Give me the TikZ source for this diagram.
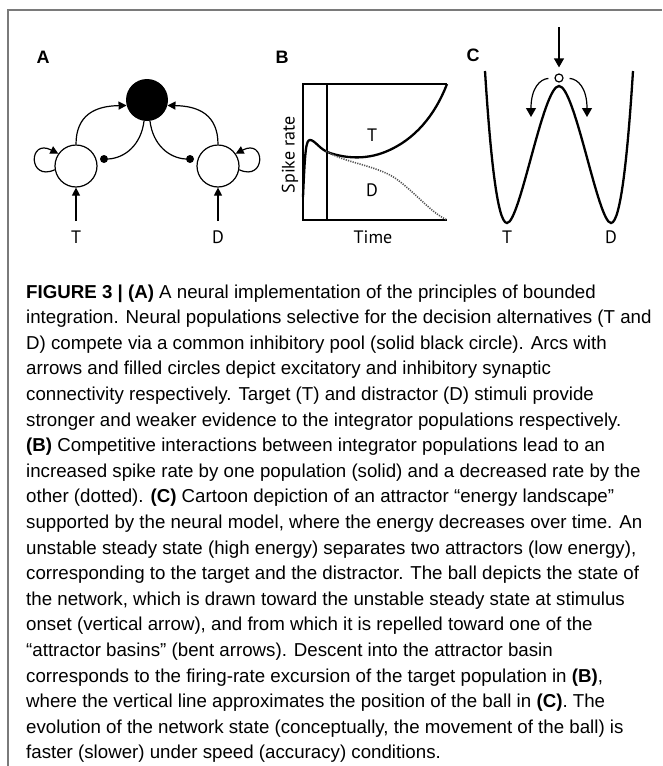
\documentclass[tikz,border=0pt]{standalone}
\usepackage{fontspec}
\setmainfont{Liberation Sans}
\newfontfamily\labfont{PT Sans}
\usetikzlibrary{arrows.meta}
\definecolor{framegray}{HTML}{7A7A7A}
\definecolor{dotgray}{HTML}{555555}
\tikzset{
  thin line/.style={line width=1.2pt,black},
  thick curve/.style={line width=2.3pt,black},
  arr/.style={-{Triangle[length=8pt,width=8pt]}},
  bigarr/.style={-{Triangle[length=9pt,width=10pt]}},
  pop/.style={circle,draw,line width=1.2pt,minimum size=42pt,inner sep=0pt},
  inhdot/.style={circle,fill=black,minimum size=8pt,inner sep=0pt},
  panel/.style={font=\bfseries\fontsize{18}{18}\selectfont,inner sep=0pt},
  lab/.style={font=\labfont\fontsize{18}{18}\selectfont,inner sep=0pt},
  capline/.style={anchor=base west,inner sep=0pt,font=\fontsize{18.7}{20}\selectfont},
}
\begin{document}
\begin{tikzpicture}[x=1pt,y=-1pt]
\useasboundingbox (0,0) rectangle (662,766);
% frame
\draw[framegray,line width=1.5pt] (8,766) -- (8,10) -- (662,10);

% ---------------- Panel A
\node[panel] (lA) at (43,57) {A};
\node[circle,fill=black,minimum size=42pt,inner sep=0pt] (pool) at (147,100) {};
\node[pop] (nt) at (76,166) {};
\node[pop] (nd) at (218,166) {};
\node[inhdot] (it) at (104,159) {};
\node[inhdot] (id) at (190,159) {};
\coordinate (tin) at (76,221);
\coordinate (din) at (218,221);
\draw[thin line,arr] (nt.north) .. controls (76,115) and (95,106) .. (pool.195);
\draw[thin line,arr] (nd.north) .. controls (218,115) and (199,106) .. (pool.-15);
\draw[thin line] (pool.262) .. controls (141,145) and (125,158) .. (it.east);
\draw[thin line] (pool.278) .. controls (153,145) and (169,158) .. (id.west);
\draw[thin line,arr] (nt.190) .. controls (28,182) and (28,138) .. (nt.145);
\draw[thin line,arr] (nd.-10) .. controls (266,182) and (266,138) .. (nd.35);
\draw[thin line,arr] (tin) -- (nt.south);
\draw[thin line,arr] (din) -- (nd.south);
\node[lab,anchor=base] (tA) at (76,243) {T};
\node[lab,anchor=base] (dA) at (218,243) {D};

% ---------------- Panel B
\node[panel] (lB) at (282,57) {B};
\coordinate (b1) at (303,84);
\coordinate (b2) at (447,84);
\coordinate (b3) at (303,220);
\coordinate (b4) at (447,220);
\draw[thin line] (b2) -- (b1) -- (b3) -- (b4);
\draw[thin line] (327,84) -- (327,220);
\draw[thick curve] (303,197) .. controls (305,150) and (306,140) .. (310,140)
  .. controls (315,140) and (320,150) .. (330,153)
  .. controls (345,158) and (365,160) .. (385,152)
  .. controls (415,140) and (435,115) .. (b2);
\draw[dotgray,line width=1.6pt,dash pattern=on 1.2pt off 1.2pt] (326,151) .. controls (345,163) and (375,165) .. (395,178)
  .. controls (415,192) and (430,212) .. (b4);
\node[lab,rotate=90] (ylab) at (290,155) {Spike rate};
\node[lab,anchor=base] (xlab) at (373,243) {Time};
\node[lab] (tB) at (372,135) {T};
\node[lab] (dB) at (372,190) {D};

% ---------------- Panel C
\node[panel] (lC) at (473,55) {C};
\draw[thick curve] (485,71) .. controls (490,150) and (497,223) .. (507,223)
  .. controls (520,223) and (543,86) .. (559,86)
  .. controls (575,86) and (598,223) .. (611,223)
  .. controls (621,223) and (628,150) .. (633,71);
\node[circle,draw,line width=1.2pt,minimum size=8pt,inner sep=0pt,fill=white] (ball) at (559,78) {};
\coordinate (ctop) at (559,27);
\coordinate (cl) at (531,117);
\coordinate (cr) at (587,117);
\draw[thin line,bigarr,shorten >=6pt] (ctop) -- (ball.north);
\draw[thin line,bigarr,shorten <=6pt] (ball.west) .. controls (540,79) and (531,88) .. (cl);
\draw[thin line,bigarr,shorten <=6pt] (ball.east) .. controls (578,79) and (587,88) .. (cr);
\node[lab,anchor=base] (tC) at (507,243) {T};
\node[lab,anchor=base] (dC) at (611,243) {D};

% ---------------- Caption
\node[capline] (c1) at (26,298) {{\bfseries FIGURE 3 | (A)} A neural implementation of the principles of bounded};
\node[capline] (c2) at (26,323.6) {integration. Neural populations selective for the decision alternatives (T and};
\node[capline] (c3) at (26,349.2) {D) compete via a common inhibitory pool (solid black circle). Arcs with};
\node[capline] (c4) at (26,374.8) {arrows and filled circles depict excitatory and inhibitory synaptic};
\node[capline] (c5) at (26,400.4) {connectivity respectively. Target (T) and distractor (D) stimuli provide};
\node[capline] (c6) at (26,426) {stronger and weaker evidence to the integrator populations respectively.};
\node[capline] (c7) at (26,451.6) {{\bfseries (B)} Competitive interactions between integrator populations lead to an};
\node[capline] (c8) at (26,477.2) {increased spike rate by one population (solid) and a decreased rate by the};
\node[capline] (c9) at (26,502.8) {other (dotted). {\bfseries (C)} Cartoon depiction of an attractor ``energy landscape''};
\node[capline] (c10) at (26,528.4) {supported by the neural model, where the energy decreases over time. An};
\node[capline] (c11) at (26,554) {unstable steady state (high energy) separates two attractors (low energy),};
\node[capline] (c12) at (26,579.6) {corresponding to the target and the distractor. The ball depicts the state of};
\node[capline] (c13) at (26,605.2) {the network, which is drawn toward the unstable steady state at stimulus};
\node[capline] (c14) at (26,630.8) {onset (vertical arrow), and from which it is repelled toward one of the};
\node[capline] (c15) at (26,656.4) {``attractor basins'' (bent arrows). Descent into the attractor basin};
\node[capline] (c16) at (26,682) {corresponds to the firing-rate excursion of the target population in {\bfseries (B)},};
\node[capline] (c17) at (26,707.6) {where the vertical line approximates the position of the ball in {\bfseries (C)}. The};
\node[capline] (c18) at (26,733.2) {evolution of the network state (conceptually, the movement of the ball) is};
\node[capline] (c19) at (26,758.8) {faster (slower) under speed (accuracy) conditions.};
\end{tikzpicture}
\end{document}
